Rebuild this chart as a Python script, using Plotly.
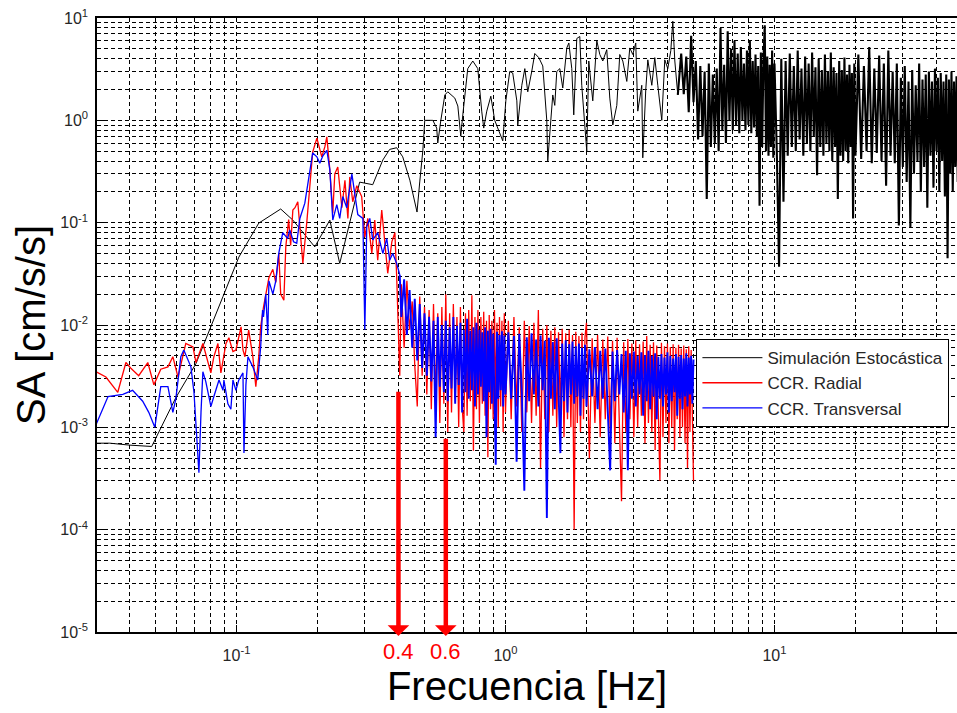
import math
import plotly.graph_objects as go

# ---------------- data ----------------
# Simulación Estocástica (black)
sim_f_low = [0.0303, 0.0338, 0.0401, 0.0484, 0.0595, 0.0707, 0.0891, 0.102, 0.121, 0.146,
             0.162, 0.1955, 0.2223, 0.242, 0.287, 0.321, 0.35, 0.371, 0.394, 0.415,
             0.441, 0.469, 0.48, 0.493, 0.501, 0.523, 0.537, 0.555, 0.560, 0.575,
             0.595, 0.610, 0.648, 0.665, 0.682, 0.694, 0.724, 0.756, 0.789, 0.816,
             0.830, 0.852, 0.882, 0.912, 0.936, 0.977, 1.003, 1.037, 1.064, 1.102,
             1.111, 1.150, 1.180, 1.210, 1.252, 1.285, 1.330, 1.376, 1.424, 1.436,
             1.474, 1.499, 1.525, 1.551, 1.592, 1.633, 1.690, 1.720, 1.764, 1.794,
             1.841, 1.889, 1.921, 1.955, 2.005, 2.040, 2.111, 2.185, 2.242, 2.300,
             2.380, 2.442, 2.506, 2.593, 2.660, 2.730, 2.825, 2.898, 2.973, 3.050,
             3.103, 3.211, 3.239, 3.323, 3.381, 3.499, 3.589, 3.683, 3.811, 3.910,
             4.012, 4.117, 4.188, 4.261, 4.371]
sim_sa_low = [7.0e-4, 7.0e-4, 6.7e-4, 6.5e-4, 1.95e-3, 4.2e-3, 1.9e-2, 4.6e-2, 0.099, 0.136,
              0.106, 0.058, 0.106, 0.040, 0.249, 0.235, 0.41, 0.52, 0.54, 0.44,
              0.26, 0.127, 0.25, 0.51, 1.0, 1.0, 1.0, 0.84, 0.6, 1.0,
              1.77, 1.9, 1.65, 1.38, 0.70, 1.13, 3.2, 3.8, 3.2, 1.23,
              0.84, 1.23, 1.72, 1.0, 0.84, 0.63, 1.55, 3.0, 2.9, 1.55,
              0.9, 2.2, 3.2, 1.9, 3.0, 4.5, 4.1, 3.4, 1.0, 0.40,
              1.0, 1.77, 1.4, 3.0, 3.2, 2.07, 5.1, 5.7, 3.2, 1.13,
              6.3, 6.6, 2.2, 1.23, 0.5, 3.8, 1.55, 6.0, 4.4, 3.8,
              4.9, 1.65, 0.9, 1.4, 4.4, 3.8, 2.4, 5.1, 4.4, 5.7,
              1.23, 2.2, 0.43, 2.0, 3.9, 2.2, 4.1, 2.2, 1.0, 3.9,
              3.2, 4.8, 9.3, 3.8, 1.77]
sim_f_hi = [4.5, 4.6, 4.7, 4.8, 4.9, 5.0, 5.1, 5.2, 5.3, 5.4,
            5.5, 5.6, 5.7, 5.8, 5.9, 6.0, 6.1, 6.2, 6.3, 6.4,
            6.5, 6.6, 6.7, 6.8, 6.9, 7.0, 7.1, 7.2, 7.3, 7.4,
            7.5, 7.6, 7.7, 7.8, 7.9, 8.0, 8.1, 8.2, 8.3, 8.4,
            8.5, 8.6, 8.7, 8.8, 8.9, 9.0, 9.1, 9.2, 9.3, 9.4,
            9.5, 9.6, 9.7, 9.8, 9.9, 10.0,
            10.2, 10.4, 10.6, 10.8, 11.0, 11.2, 11.4, 11.6, 11.8, 12.0,
            12.2, 12.4, 12.6, 12.8, 13.0, 13.2, 13.4, 13.6, 13.8, 14.0,
            14.2, 14.4, 14.6, 14.8, 15.0, 15.2, 15.4, 15.6, 15.8, 16.0,
            16.2, 16.4, 16.6, 16.8, 17.0, 17.2, 17.4, 17.6, 17.8, 18.0,
            18.2, 18.4, 18.6, 18.8, 19.0, 19.2, 19.4, 19.6, 19.8, 20.0,
            20.5, 21.0, 21.5, 22.0, 22.5, 23.0, 23.5, 24.0, 24.5, 25.0,
            25.5, 26.0, 26.5, 27.0, 27.5, 28.0, 28.5, 29.0, 29.5, 30.0,
            30.5, 31.0, 31.5, 32.0, 32.5, 33.0, 33.5, 34.0, 34.5, 35.0,
            35.5, 36.0, 36.5, 37.0, 37.5, 38.0, 38.5, 39.0, 39.5, 40.0,
            40.5, 41.0, 41.5, 42.0, 42.5, 43.0, 43.5, 44.0, 44.5, 45.0,
            45.5, 46.0, 46.5, 47.0, 47.5, 48.0]
sim_sa_hi = [4.5, 1.8, 4.2, 1.2, 6.7, 1.5, 3.8, 0.65, 3.4, 0.7,
             3.0, 0.17, 3.6, 0.55, 2.8, 0.6, 3.2, 0.5, 8.0, 0.8,
             3.5, 0.6, 7.4, 1.0, 5.0, 0.8, 6.0, 0.9, 4.5, 0.75,
             5.2, 1.0, 3.6, 0.8, 4.8, 0.9, 6.0, 0.75, 3.8, 0.85,
             4.4, 0.7, 3.4, 0.146, 4.6, 0.55, 3.9, 8.5, 0.5, 4.2,
             0.45, 3.5, 0.55, 4.8, 0.43, 3.6,
             0.5, 0.037, 4.0, 0.16, 3.8, 0.45, 4.5, 0.55, 3.4, 0.5,
             4.8, 0.65, 3.2, 0.45, 4.2, 0.6, 3.6, 0.5, 4.6, 0.7,
             3.3, 0.29, 4.0, 0.55, 3.1, 0.45, 4.4, 0.6, 3.0, 0.5,
             4.6, 0.4, 3.3, 0.55, 2.9, 0.17, 3.8, 0.45, 3.1, 0.4,
             4.1, 0.5, 2.8, 0.38, 3.5, 0.55, 2.9, 0.11, 3.6, 0.45,
             4.4, 0.42, 3.4, 0.5, 5.2, 0.38, 3.2, 0.48, 4.3, 0.4,
             3.6, 0.23, 4.8, 0.45, 3.0, 0.38, 3.6, 0.094, 2.6, 0.35,
             3.4, 0.25, 2.4, 0.089, 3.1, 0.3, 2.2, 0.4, 3.6, 0.2,
             2.5, 0.35, 2.8, 0.14, 3.0, 0.45, 2.4, 0.22, 3.2, 0.5,
             2.6, 0.2, 2.9, 0.4, 2.4, 0.18, 2.8, 0.045, 2.5, 0.3,
             3.0, 0.2, 2.4, 0.35, 2.7, 0.25]

# CCR Radial (red)
radial_f_low = [0.030, 0.0327, 0.0362, 0.0388, 0.0404, 0.0433, 0.0468, 0.0493, 0.0523, 0.0556,
                0.058, 0.0606, 0.0648, 0.0689, 0.0707, 0.075, 0.0803, 0.0824, 0.0853, 0.0875,
                0.0914, 0.0937, 0.097, 0.0995, 0.104, 0.1057, 0.1075, 0.111, 0.115, 0.118,
                0.121, 0.123, 0.126, 0.132, 0.1365, 0.14, 0.1436, 0.146, 0.15, 0.1525,
                0.1563, 0.159, 0.162, 0.165, 0.169, 0.172, 0.1765, 0.1825, 0.1875, 0.192,
                0.199, 0.2025, 0.2075, 0.213, 0.2167, 0.2223, 0.228, 0.232, 0.238, 0.2465,
                0.253, 0.2595, 0.2637, 0.2705, 0.28, 0.292, 0.30, 0.3077, 0.3185, 0.3266,
                0.335, 0.3467, 0.356, 0.365, 0.378, 0.388, 0.394, 0.4045]
radial_sa_low = [3.5e-3, 3.1e-3, 2.2e-3, 4.3e-3, 3.8e-3, 3.2e-3, 4.3e-3, 2.6e-3, 3.7e-3, 3.9e-3,
                 4.9e-3, 3.1e-3, 6.6e-3, 6.1e-3, 4.3e-3, 6.6e-3, 3.4e-3, 4.9e-3, 6.6e-3, 3.4e-3,
                 6.6e-3, 7.5e-3, 5.5e-3, 5.7e-3, 9.6e-3, 5.7e-3, 4.9e-3, 8.9e-3, 4.9e-3, 2.5e-3,
                 4.9e-3, 9.6e-3, 1.5e-2, 2.9e-2, 3.5e-2, 2.6e-2, 5.0e-2, 2.0e-2, 1.75e-2, 5.8e-2,
                 0.107, 0.06, 0.133, 0.14, 0.16, 0.09, 0.040, 0.10, 0.22, 0.49,
                 0.67, 0.55, 0.44, 0.55, 0.69, 0.33, 0.124, 0.30, 0.35, 0.14,
                 0.26, 0.11, 0.28, 0.16, 0.23, 0.18, 0.072, 0.11, 0.050, 0.106,
                 0.043, 0.133, 0.06, 0.032, 0.065, 0.08, 0.03, 3.2e-3]

# CCR Transversal (blue)
transv_f_low = [0.030, 0.0333, 0.0378, 0.0411, 0.0448, 0.0472, 0.0497, 0.0523, 0.0556, 0.057,
                0.058, 0.0595, 0.0621, 0.0637, 0.0677, 0.0695, 0.0707, 0.0725, 0.0738, 0.075,
                0.0769, 0.0803, 0.0824, 0.0861, 0.0891, 0.0898, 0.0929, 0.0953, 0.097, 0.0995,
                0.102, 0.1057, 0.1066, 0.1084, 0.1103, 0.115, 0.120, 0.123, 0.125, 0.126,
                0.1285, 0.1307, 0.132, 0.1365, 0.14, 0.1436, 0.1486, 0.155, 0.1577, 0.163,
                0.1675, 0.172, 0.1795, 0.1875, 0.192, 0.199, 0.204, 0.2095, 0.2167, 0.2223,
                0.228, 0.236, 0.242, 0.2485, 0.257, 0.2685, 0.2753, 0.2825, 0.295, 0.30,
                0.305, 0.313, 0.321, 0.335, 0.35, 0.362, 0.371, 0.381, 0.394, 0.4045]
transv_sa_low = [1.05e-3, 2.0e-3, 2.1e-3, 2.3e-3, 1.8e-3, 1.4e-3, 1.0e-3, 2.5e-3, 2.5e-3, 1.8e-3,
                 1.4e-3, 1.9e-3, 4.9e-3, 5.7e-3, 3.9e-3, 2.2e-3, 1.0e-3, 3.6e-4, 1.4e-3, 3.5e-3,
                 2.8e-3, 1.6e-3, 2.0e-3, 2.9e-3, 2.3e-3, 2.9e-3, 1.7e-3, 1.5e-3, 2.9e-3, 2.3e-3,
                 2.9e-3, 3.4e-3, 5.6e-4, 2.6e-3, 4.9e-3, 3.9e-3, 2.9e-3, 6.1e-3, 1.4e-2, 1.2e-2,
                 2.0e-2, 8.0e-3, 2.7e-2, 2.0e-2, 2.7e-2, 5.0e-2, 8.0e-2, 7.0e-2, 0.085, 0.065,
                 0.063, 0.11, 0.155, 0.33, 0.48, 0.44, 0.38, 0.45, 0.51, 0.33,
                 0.106, 0.15, 0.11, 0.18, 0.14, 0.30, 0.20, 0.12, 0.11, 0.009,
                 0.091, 0.11, 0.068, 0.08, 0.05, 0.07, 0.043, 0.05, 0.040, 0.031]

# shared CCR frequency grid above 0.4 Hz
ccr_f_hi = [0.41, 0.42, 0.43, 0.44, 0.45, 0.46, 0.47, 0.48, 0.49, 0.50,
            0.51, 0.52, 0.53, 0.54, 0.55, 0.56, 0.57, 0.58, 0.59, 0.60,
            0.61, 0.62, 0.63, 0.64, 0.65, 0.66, 0.67, 0.68, 0.69, 0.70,
            0.71, 0.72, 0.73, 0.74, 0.75, 0.76, 0.77, 0.78, 0.79, 0.80,
            0.81, 0.82, 0.83, 0.84, 0.85, 0.86, 0.87, 0.88, 0.89, 0.90,
            0.91, 0.92, 0.93, 0.94, 0.95, 0.96, 0.97, 0.98, 0.99, 1.00,
            1.025, 1.05, 1.075, 1.10, 1.125, 1.15, 1.175, 1.20, 1.225, 1.25,
            1.275, 1.30, 1.325, 1.35, 1.375, 1.40, 1.425, 1.45, 1.475, 1.50,
            1.525, 1.55, 1.575, 1.60, 1.625, 1.65, 1.675, 1.70, 1.725, 1.75,
            1.775, 1.80, 1.825, 1.85, 1.875, 1.90, 1.925, 1.95, 1.975, 2.00,
            2.05, 2.10, 2.15, 2.20, 2.25, 2.30, 2.35, 2.40, 2.45, 2.50,
            2.55, 2.60, 2.65, 2.70, 2.75, 2.80, 2.85, 2.90, 2.95, 3.00,
            3.05, 3.10, 3.15, 3.20, 3.25, 3.30, 3.35, 3.40, 3.45, 3.50,
            3.55, 3.60, 3.65, 3.70, 3.75, 3.80, 3.85, 3.90, 3.95, 4.00,
            4.05, 4.10, 4.15, 4.20, 4.25, 4.30, 4.35, 4.40, 4.45, 4.50,
            4.55, 4.60, 4.65, 4.70, 4.75, 4.80, 4.85, 4.90, 4.95, 5.00]
radial_sa_hi = [0.025, 0.006, 0.027, 0.009, 0.017, 0.004, 0.0016, 0.019, 0.0032, 0.015,
                0.0021, 0.014, 0.0015, 0.016, 0.0018, 0.013, 0.0011, 0.015, 0.0017, 0.020,
                0.0009, 0.013, 0.0014, 0.016, 0.0019, 0.012, 0.0010, 0.015, 0.0016, 0.0009,
                0.013, 0.0013, 0.014, 0.0018, 0.0195, 0.00059, 0.012, 0.0015, 0.014, 0.0011,
                0.012, 0.0017, 0.0135, 0.0013, 0.011, 0.00051, 0.0125, 0.0015, 0.011, 0.0012,
                0.014, 0.0018, 0.0105, 0.0010, 0.012, 0.0016, 0.0110, 0.0009, 0.013, 0.0014,
                0.011, 0.0012, 0.012, 0.0016, 0.0095, 0.0009, 0.011, 0.0014, 0.0098, 0.0011,
                0.0105, 0.0013, 0.014, 0.0004, 0.0092, 0.0012, 0.0100, 0.0009, 0.0088, 0.0013,
                0.0095, 0.0010, 0.0085, 0.0014, 0.0092, 0.0008, 0.0083, 0.0012, 0.0090, 0.0010,
                0.0080, 0.0001, 0.0086, 0.0011, 0.0078, 0.0009, 0.0084, 0.0012, 0.0076, 0.0105,
                0.0005, 0.0074, 0.0011, 0.0080, 0.0008, 0.0072, 0.0012, 0.0077, 0.0009, 0.0070,
                0.0007, 0.0075, 0.0011, 0.00019, 0.0068, 0.0009, 0.0073, 0.0012, 0.0066, 0.0008,
                0.0071, 0.0010, 0.0065, 0.0013, 0.0069, 0.0007, 0.0078, 0.0011, 0.0064, 0.0009,
                0.0068, 0.0006, 0.0063, 0.0012, 0.0003, 0.0067, 0.0008, 0.0062, 0.0011, 0.0066,
                0.0007, 0.0061, 0.0010, 0.0065, 0.0006, 0.0060, 0.0012, 0.0064, 0.0008, 0.0059,
                0.0010, 0.0063, 0.0007, 0.0058, 0.0004, 0.0062, 0.0009, 0.0057, 0.0011, 0.0003]
transv_sa_hi = [0.012, 0.028, 0.008, 0.022, 0.006, 0.018, 0.0045, 0.016, 0.0038, 0.013,
                0.0032, 0.012, 0.0028, 0.011, 0.0008, 0.012, 0.0025, 0.010, 0.0022, 0.011,
                0.0018, 0.0095, 0.0024, 0.012, 0.0017, 0.0098, 0.0026, 0.0105, 0.0014, 0.009,
                0.0022, 0.0115, 0.0019, 0.0088, 0.0023, 0.0095, 0.0016, 0.0105, 0.0021, 0.009,
                0.0025, 0.0085, 0.0018, 0.0095, 0.0008, 0.0088, 0.0022, 0.0092, 0.0017, 0.0082,
                0.0024, 0.00043, 0.0086, 0.0019, 0.0080, 0.0023, 0.0087, 0.0016, 0.0079, 0.0021,
                0.0085, 0.0019, 0.0078, 0.00046, 0.0082, 0.0022, 0.00024, 0.0076, 0.0018, 0.0083,
                0.0021, 0.0072, 0.0016, 0.0079, 0.0023, 0.0070, 0.00013, 0.0075, 0.0019, 0.0068,
                0.0015, 0.0074, 0.0022, 0.00056, 0.0066, 0.0018, 0.0071, 0.0014, 0.0065, 0.0021,
                0.0069, 0.0017, 0.0062, 0.0020, 0.0066, 0.0013, 0.0060, 0.0019, 0.0064, 0.0016,
                0.0058, 0.0020, 0.0061, 0.0015, 0.0056, 0.0019, 0.0059, 0.0013, 0.00038, 0.0055,
                0.0018, 0.0057, 0.0021, 0.0052, 0.0014, 0.0056, 0.00038, 0.0053, 0.0019, 0.0055,
                0.0016, 0.0050, 0.0021, 0.0054, 0.0013, 0.0051, 0.0018, 0.0056, 0.0015, 0.0050,
                0.0020, 0.0053, 0.0012, 0.0049, 0.0019, 0.0052, 0.0016, 0.0048, 0.0021, 0.0054,
                0.0014, 0.0050, 0.0018, 0.0047, 0.0022, 0.0052, 0.0013, 0.0049, 0.0019, 0.0051,
                0.0015, 0.0047, 0.0020, 0.0053, 0.0016, 0.0048, 0.0021, 0.0050, 0.0017, 0.0046]

series_names = ["Simulación Estocástica", "CCR. Radial", "CCR. Transversal"]

# marked frequencies (arrows) and where each arrow starts
arrow_freqs = [0.4, 0.6]
arrow_labels = ["0.4", "0.6"]
arrow_top_sa = [2.3e-3, 8.0e-4]

x_tick_vals = [0.1, 1, 10]
x_tick_text = ["10<sup>-1</sup>", "10<sup>0</sup>", "10<sup>1</sup>"]
y_tick_vals = [1e-5, 1e-4, 1e-3, 1e-2, 1e-1, 1, 10]
y_tick_text = ["10<sup>-5</sup>", "10<sup>-4</sup>", "10<sup>-3</sup>", "10<sup>-2</sup>",
               "10<sup>-1</sup>", "10<sup>0</sup>", "10<sup>1</sup>"]

# ---------------- figure ----------------
FONT = "Liberation Sans, Arial, Helvetica, sans-serif"
fig = go.Figure()
# black: sparse part (thin) + dense high-frequency part (same series, legend entry once)
fig.add_trace(go.Scatter(x=sim_f_low, y=sim_sa_low, mode="lines",
                         name=series_names[0], line=dict(color="black", width=1)))
fig.add_trace(go.Scatter(x=sim_f_low[-1:] + sim_f_hi, y=sim_sa_low[-1:] + sim_sa_hi, mode="lines",
                         showlegend=False, hoverinfo="skip",
                         name=series_names[0], line=dict(color="black", width=2.1)))
fig.add_trace(go.Scatter(x=radial_f_low + ccr_f_hi, y=radial_sa_low + radial_sa_hi, mode="lines",
                         name=series_names[1], line=dict(color="#ff0000", width=1.3)))
fig.add_trace(go.Scatter(x=transv_f_low, y=transv_sa_low, mode="lines",
                         name=series_names[2], line=dict(color="#0000ff", width=1.3)))
fig.add_trace(go.Scatter(x=transv_f_low[-1:] + ccr_f_hi, y=transv_sa_low[-1:] + transv_sa_hi,
                         mode="lines", showlegend=False, hoverinfo="skip",
                         name=series_names[2], line=dict(color="#0000ff", width=1.9)))

grid = dict(showgrid=True, gridcolor="black", gridwidth=1, griddash="4px,3px")
minor = dict(showgrid=True, gridcolor="black", gridwidth=1, griddash="4px,3px",
             ticks="inside", ticklen=4, tickcolor="black", dtick="D1")

fig.update_xaxes(type="log", range=[math.log10(0.0303), math.log10(47.7)],
                 tickmode="array", tickvals=x_tick_vals, ticktext=x_tick_text,
                 ticks="inside", ticklen=7, tickcolor="black",
                 showline=True, linecolor="black", linewidth=1.5, mirror=True,
                 zeroline=False, minor=minor, **grid,
                 tickfont=dict(size=16, color="#262626", family=FONT),
                 ticklabelstandoff=8,
                 title=dict(text="Frecuencia [Hz]", font=dict(size=40, color="black", family=FONT),
                            standoff=8))
fig.update_yaxes(type="log", range=[-5, 1],
                 tickmode="array", tickvals=y_tick_vals, ticktext=y_tick_text,
                 ticks="inside", ticklen=7, tickcolor="black",
                 showline=True, linecolor="black", linewidth=1.5, mirror=False,
                 zeroline=False, minor=minor, **grid,
                 tickfont=dict(size=16, color="#262626", family=FONT),
                 ticklabelstandoff=4,
                 title=dict(text="SA [cm/s/s]", font=dict(size=40, color="black", family=FONT),
                            standoff=2))

for fv, lab, top in zip(arrow_freqs, arrow_labels, arrow_top_sa):
    fig.add_annotation(x=math.log10(fv), y=-5.04, ax=math.log10(fv), ay=math.log10(top),
                       xref="x", yref="y", axref="x", ayref="y", text="",
                       showarrow=True, arrowhead=1, arrowsize=0.8, arrowwidth=4.5,
                       arrowcolor="#ff0000", standoff=0)
    fig.add_annotation(x=math.log10(fv), y=0, xref="x", yref="paper", yanchor="top",
                       yshift=-5, text=lab, showarrow=False,
                       font=dict(size=22, color="#ff0000", family=FONT))

fig.update_layout(
    width=957, height=713,
    margin=dict(l=97, r=0, t=18, b=81, autoexpand=False),
    paper_bgcolor="white", plot_bgcolor="white",
    font=dict(family=FONT, color="#262626"),
    showlegend=True,
    legend=dict(x=0.697, y=0.477, xanchor="left", yanchor="top", bgcolor="white",
                bordercolor="black", borderwidth=1, itemwidth=60, tracegroupgap=0,
                font=dict(size=17, color="#262626", family=FONT)),
)

fig.write_html("out.html", config={"displayModeBar": False},
               post_script="document.body.style.margin='0px';document.body.style.overflow='hidden';")
